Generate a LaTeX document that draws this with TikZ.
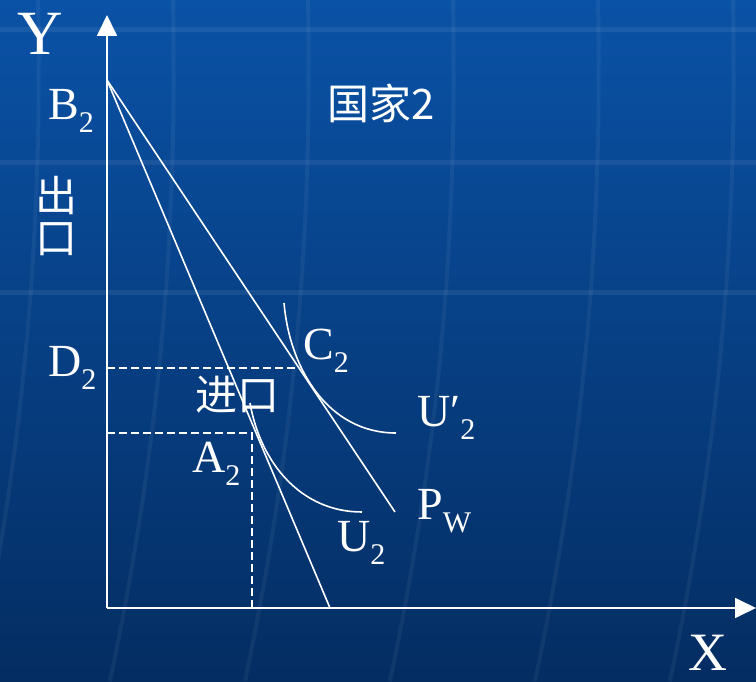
\documentclass[tikz,border=0pt]{standalone}
\usepackage{fontspec}
\usepackage{xcolor}
\usepackage{tikz}
\usetikzlibrary{arrows.meta,positioning,calc}
\setmainfont{Liberation Serif}
\newfontfamily\cjk{Noto Sans CJK SC}
\definecolor{skytop}{HTML}{0A52A6}
\definecolor{skybot}{HTML}{042D62}
\newcommand\lowsub[1]{\raisebox{-13pt}{\fontsize{30}{30}\selectfont #1}}

\begin{document}
\begin{tikzpicture}[
  x=1pt, y=1pt,
  font=\fontsize{46}{50}\selectfont,
  axis/.style={white, line width=1.8pt, -{Triangle[length=21pt, width=20pt]}},
  curve/.style={white, line width=1.6pt},
  guide/.style={white, line width=1.6pt, dash pattern=on 8pt off 4pt},
  lbl/.style={white, inner sep=0pt, anchor=base west},
  zh/.style={white, inner sep=0pt, font=\cjk\fontsize{42}{42}\selectfont}
]
% background
\fill[top color=skytop, bottom color=skybot] (0,0) rectangle (756,681);
\useasboundingbox (0,0) rectangle (756,681);
\foreach \y in {388,518,651}
  \draw[white, opacity=0.07, line width=5pt] (0,\y) -- (756,\y);
\foreach \x in {30,165,300,445,590,725}
  \draw[white, opacity=0.05, line width=4pt] (\x-55,0) .. controls (\x,260) and (\x+12,480) .. (\x+8,681);

% points
\coordinate (o) at (107,73);
\coordinate (ytip) at (107,666);
\coordinate (xtip) at (756,73);
\coordinate (b2) at (107,601);
\coordinate (ppf) at (330,73);
\coordinate (pw) at (395,169);
\coordinate (d2) at (107,313);
\coordinate (c2) at (299,313);
\coordinate (a2y) at (107,248);
\coordinate (a2) at (252,248);
\coordinate (a2x) at (252,73);

% axes and lines
\draw[axis] (o) -- (ytip);
\draw[axis] (o) -- (xtip);
\draw[curve] (b2) -- (ppf);
\draw[curve] (b2) -- (pw);
\draw[guide] (d2) -- (c2);
\draw[guide] (a2y) -- (a2) -- (a2x);

% indifference curves
\draw[curve] (250,278) to[out=-80, in=180] (362,169);
\draw[curve] (284,378) to[out=-85, in=180] (396,248);

% labels
\node[lbl, font=\fontsize{63}{63}\selectfont] (ylab) at (17,626) {Y};
\node[lbl, font=\fontsize{54}{54}\selectfont] (xlab) at (688,11) {X};
\node[lbl] (b2lab) at (48,561) {B\lowsub{2}};
\node[lbl] (d2lab) at (48,304) {D\lowsub{2}};
\node[lbl] (c2lab) at (303,321) {C\lowsub{2}};
\node[lbl] (a2lab) at (192,208) {A\lowsub{2}};
\node[lbl] (u2lab) at (337,129) {U\lowsub{2}};
\node[lbl] (uu2lab) at (417,254) {U′\lowsub{2}};
\node[lbl] (pwlab) at (417,161) {P\lowsub{W}};
\node[zh] (title) at (381,578) {国家2};
\node[zh] (out1) at (56,485) {出};
\node[zh, below=7pt of out1] (out2) {口};
\node[zh] (imp) at (237,286) {进口};
\end{tikzpicture}
\end{document}
